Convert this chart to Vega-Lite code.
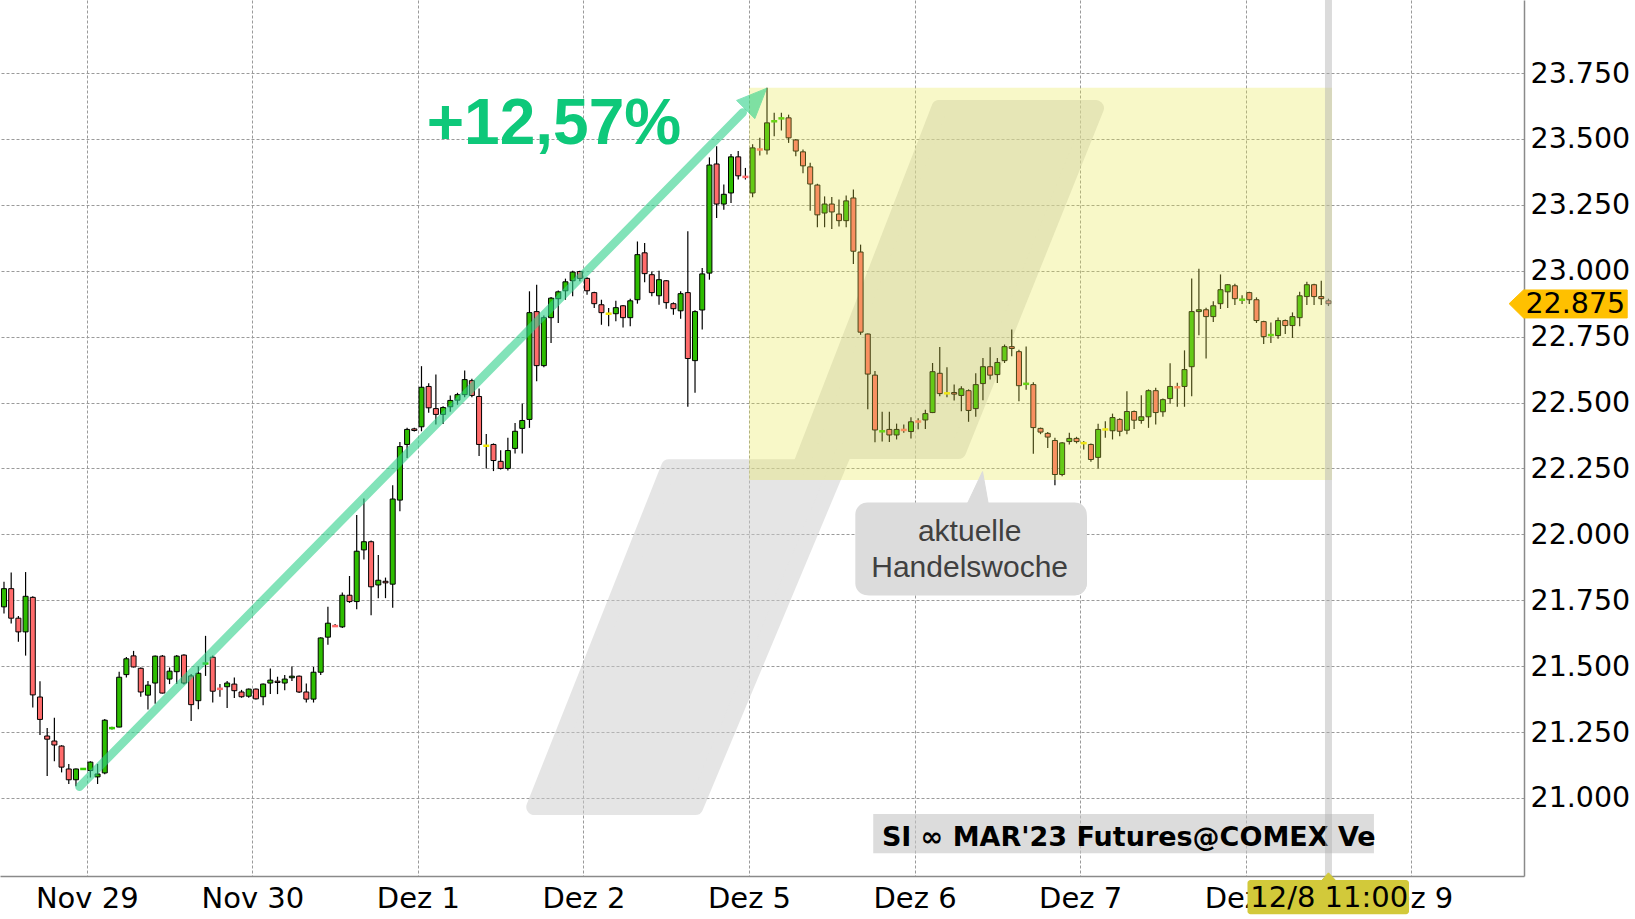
{
  "$schema": "https://vega.github.io/schema/vega-lite/v6.json",
  "width": 1524,
  "height": 876,
  "autosize": "none",
  "padding": {"left": 0, "top": 0, "right": 111, "bottom": 43},
  "background": "white",
  "config": {"view": {"stroke": null}},
  "datasets": {
    "candles": [
      {"i":-12,"o":21.725,"h":21.82,"l":21.70,"c":21.794},
      {"i":-11,"o":21.794,"h":21.855,"l":21.662,"c":21.682},
      {"i":-10,"o":21.682,"h":21.69,"l":21.593,"c":21.630},
      {"i":-9,"o":21.630,"h":21.857,"l":21.540,"c":21.765},
      {"i":-8,"o":21.761,"h":21.765,"l":21.343,"c":21.391},
      {"i":-7,"o":21.383,"h":21.443,"l":21.239,"c":21.298},
      {"i":-6,"o":21.235,"h":21.265,"l":21.083,"c":21.223},
      {"i":-5,"o":21.216,"h":21.304,"l":21.139,"c":21.201},
      {"i":-4,"o":21.197,"h":21.20,"l":21.097,"c":21.117},
      {"i":-3,"o":21.110,"h":21.129,"l":21.053,"c":21.069},
      {"i":-2,"o":21.069,"h":21.112,"l":21.044,"c":21.110},
      {"i":-1,"o":21.108,"h":21.112,"l":21.106,"c":21.110},
      {"i":0,"o":21.104,"h":21.139,"l":21.078,"c":21.136},
      {"i":1,"o":21.080,"h":21.129,"l":21.053,"c":21.091},
      {"i":2,"o":21.095,"h":21.30,"l":21.09,"c":21.295},
      {"i":3,"o":21.263,"h":21.27,"l":21.26,"c":21.265},
      {"i":4,"o":21.269,"h":21.479,"l":21.268,"c":21.458},
      {"i":5,"o":21.468,"h":21.535,"l":21.457,"c":21.528},
      {"i":6,"o":21.539,"h":21.558,"l":21.495,"c":21.497},
      {"i":7,"o":21.492,"h":21.495,"l":21.384,"c":21.402},
      {"i":8,"o":21.390,"h":21.444,"l":21.336,"c":21.428},
      {"i":9,"o":21.436,"h":21.54,"l":21.357,"c":21.538},
      {"i":10,"o":21.538,"h":21.542,"l":21.396,"c":21.398},
      {"i":11,"o":21.451,"h":21.495,"l":21.432,"c":21.481},
      {"i":12,"o":21.479,"h":21.542,"l":21.432,"c":21.538},
      {"i":13,"o":21.542,"h":21.545,"l":21.43,"c":21.436},
      {"i":14,"o":21.463,"h":21.47,"l":21.292,"c":21.354},
      {"i":15,"o":21.369,"h":21.499,"l":21.337,"c":21.473},
      {"i":16,"o":21.508,"h":21.615,"l":21.463,"c":21.510},
      {"i":17,"o":21.534,"h":21.54,"l":21.362,"c":21.405},
      {"i":18,"o":21.416,"h":21.432,"l":21.384,"c":21.414},
      {"i":19,"o":21.422,"h":21.444,"l":21.341,"c":21.436},
      {"i":20,"o":21.432,"h":21.457,"l":21.379,"c":21.407},
      {"i":21,"o":21.402,"h":21.41,"l":21.38,"c":21.384},
      {"i":22,"o":21.386,"h":21.415,"l":21.38,"c":21.413},
      {"i":23,"o":21.413,"h":21.415,"l":21.374,"c":21.376},
      {"i":24,"o":21.384,"h":21.434,"l":21.352,"c":21.432},
      {"i":25,"o":21.436,"h":21.491,"l":21.394,"c":21.447},
      {"i":26,"o":21.443,"h":21.460,"l":21.394,"c":21.438},
      {"i":27,"o":21.436,"h":21.466,"l":21.409,"c":21.451},
      {"i":28,"o":21.456,"h":21.499,"l":21.444,"c":21.462},
      {"i":29,"o":21.462,"h":21.465,"l":21.398,"c":21.402},
      {"i":30,"o":21.402,"h":21.434,"l":21.362,"c":21.375},
      {"i":31,"o":21.375,"h":21.497,"l":21.362,"c":21.477},
      {"i":32,"o":21.477,"h":21.61,"l":21.466,"c":21.607},
      {"i":33,"o":21.610,"h":21.725,"l":21.581,"c":21.663},
      {"i":34,"o":21.655,"h":21.66,"l":21.65,"c":21.652},
      {"i":35,"o":21.649,"h":21.779,"l":21.645,"c":21.769},
      {"i":36,"o":21.769,"h":21.842,"l":21.74,"c":21.745},
      {"i":37,"o":21.745,"h":22.073,"l":21.716,"c":21.936},
      {"i":38,"o":21.941,"h":22.136,"l":21.905,"c":21.972},
      {"i":39,"o":21.972,"h":21.977,"l":21.693,"c":21.801},
      {"i":40,"o":21.808,"h":21.922,"l":21.758,"c":21.826},
      {"i":41,"o":21.822,"h":21.836,"l":21.758,"c":21.816},
      {"i":42,"o":21.811,"h":22.186,"l":21.722,"c":22.134},
      {"i":43,"o":22.130,"h":22.350,"l":22.088,"c":22.333},
      {"i":44,"o":22.341,"h":22.404,"l":22.290,"c":22.398},
      {"i":45,"o":22.400,"h":22.404,"l":22.39,"c":22.394},
      {"i":46,"o":22.408,"h":22.638,"l":22.391,"c":22.558},
      {"i":47,"o":22.561,"h":22.573,"l":22.461,"c":22.480},
      {"i":48,"o":22.477,"h":22.606,"l":22.417,"c":22.455},
      {"i":49,"o":22.455,"h":22.486,"l":22.419,"c":22.481},
      {"i":50,"o":22.484,"h":22.527,"l":22.465,"c":22.508},
      {"i":51,"o":22.509,"h":22.537,"l":22.492,"c":22.530},
      {"i":52,"o":22.530,"h":22.622,"l":22.52,"c":22.587},
      {"i":53,"o":22.583,"h":22.59,"l":22.52,"c":22.527},
      {"i":54,"o":22.523,"h":22.553,"l":22.297,"c":22.341},
      {"i":55,"o":22.336,"h":22.381,"l":22.250,"c":22.336},
      {"i":56,"o":22.341,"h":22.345,"l":22.240,"c":22.280},
      {"i":57,"o":22.277,"h":22.319,"l":22.246,"c":22.250},
      {"i":58,"o":22.250,"h":22.366,"l":22.242,"c":22.318},
      {"i":59,"o":22.326,"h":22.422,"l":22.307,"c":22.391},
      {"i":60,"o":22.402,"h":22.495,"l":22.307,"c":22.432},
      {"i":61,"o":22.436,"h":22.922,"l":22.404,"c":22.841},
      {"i":62,"o":22.845,"h":22.947,"l":22.581,"c":22.640},
      {"i":63,"o":22.640,"h":22.83,"l":22.634,"c":22.822},
      {"i":64,"o":22.822,"h":22.90,"l":22.726,"c":22.896},
      {"i":65,"o":22.894,"h":22.925,"l":22.802,"c":22.920},
      {"i":66,"o":22.924,"h":22.97,"l":22.89,"c":22.958},
      {"i":67,"o":22.962,"h":23.0,"l":22.903,"c":22.995},
      {"i":68,"o":22.997,"h":23.0,"l":22.96,"c":22.971},
      {"i":69,"o":22.971,"h":22.975,"l":22.909,"c":22.924},
      {"i":70,"o":22.917,"h":22.92,"l":22.859,"c":22.875},
      {"i":71,"o":22.871,"h":22.890,"l":22.795,"c":22.841},
      {"i":72,"o":22.837,"h":22.859,"l":22.789,"c":22.837},
      {"i":73,"o":22.837,"h":22.886,"l":22.808,"c":22.860},
      {"i":74,"o":22.867,"h":22.87,"l":22.785,"c":22.822},
      {"i":75,"o":22.822,"h":22.894,"l":22.789,"c":22.886},
      {"i":76,"o":22.890,"h":23.111,"l":22.875,"c":23.061},
      {"i":77,"o":23.068,"h":23.105,"l":22.956,"c":22.989},
      {"i":78,"o":22.985,"h":22.997,"l":22.903,"c":22.917},
      {"i":79,"o":22.905,"h":23.0,"l":22.871,"c":22.966},
      {"i":80,"o":22.962,"h":22.965,"l":22.856,"c":22.879},
      {"i":81,"o":22.875,"h":22.88,"l":22.833,"c":22.856},
      {"i":82,"o":22.848,"h":22.922,"l":22.818,"c":22.913},
      {"i":83,"o":22.917,"h":23.15,"l":22.484,"c":22.667},
      {"i":84,"o":22.659,"h":22.85,"l":22.537,"c":22.845},
      {"i":85,"o":22.851,"h":23.01,"l":22.777,"c":22.988},
      {"i":86,"o":22.991,"h":23.430,"l":22.966,"c":23.401},
      {"i":87,"o":23.405,"h":23.472,"l":23.200,"c":23.253},
      {"i":88,"o":23.253,"h":23.327,"l":23.231,"c":23.290},
      {"i":89,"o":23.295,"h":23.443,"l":23.257,"c":23.432},
      {"i":90,"o":23.432,"h":23.454,"l":23.346,"c":23.360},
      {"i":91,"o":23.359,"h":23.39,"l":23.346,"c":23.356},
      {"i":92,"o":23.295,"h":23.48,"l":23.279,"c":23.466},
      {"i":93,"o":23.463,"h":23.504,"l":23.437,"c":23.460},
      {"i":94,"o":23.458,"h":23.694,"l":23.441,"c":23.561},
      {"i":95,"o":23.565,"h":23.599,"l":23.510,"c":23.567},
      {"i":96,"o":23.576,"h":23.599,"l":23.532,"c":23.578},
      {"i":97,"o":23.580,"h":23.592,"l":23.485,"c":23.504},
      {"i":98,"o":23.496,"h":23.50,"l":23.434,"c":23.454},
      {"i":99,"o":23.451,"h":23.46,"l":23.370,"c":23.398},
      {"i":100,"o":23.394,"h":23.41,"l":23.228,"c":23.329},
      {"i":101,"o":23.325,"h":23.33,"l":23.165,"c":23.212},
      {"i":102,"o":23.219,"h":23.282,"l":23.165,"c":23.253},
      {"i":103,"o":23.253,"h":23.28,"l":23.158,"c":23.223},
      {"i":104,"o":23.215,"h":23.27,"l":23.168,"c":23.190},
      {"i":105,"o":23.190,"h":23.285,"l":23.165,"c":23.265},
      {"i":106,"o":23.276,"h":23.308,"l":23.026,"c":23.074},
      {"i":107,"o":23.071,"h":23.099,"l":22.757,"c":22.767},
      {"i":108,"o":22.760,"h":22.762,"l":22.475,"c":22.608},
      {"i":109,"o":22.604,"h":22.62,"l":22.349,"c":22.396},
      {"i":110,"o":22.389,"h":22.465,"l":22.352,"c":22.391},
      {"i":111,"o":22.398,"h":22.465,"l":22.35,"c":22.377},
      {"i":112,"o":22.377,"h":22.42,"l":22.36,"c":22.398},
      {"i":113,"o":22.398,"h":22.417,"l":22.385,"c":22.396},
      {"i":114,"o":22.390,"h":22.444,"l":22.364,"c":22.427},
      {"i":115,"o":22.431,"h":22.44,"l":22.399,"c":22.428},
      {"i":116,"o":22.434,"h":22.473,"l":22.40,"c":22.458},
      {"i":117,"o":22.462,"h":22.650,"l":22.46,"c":22.617},
      {"i":118,"o":22.611,"h":22.711,"l":22.524,"c":22.534},
      {"i":119,"o":22.535,"h":22.634,"l":22.520,"c":22.535},
      {"i":120,"o":22.538,"h":22.568,"l":22.508,"c":22.532},
      {"i":121,"o":22.527,"h":22.562,"l":22.467,"c":22.552},
      {"i":122,"o":22.545,"h":22.55,"l":22.427,"c":22.470},
      {"i":123,"o":22.477,"h":22.611,"l":22.446,"c":22.568},
      {"i":124,"o":22.572,"h":22.669,"l":22.509,"c":22.636},
      {"i":125,"o":22.636,"h":22.710,"l":22.587,"c":22.604},
      {"i":126,"o":22.606,"h":22.669,"l":22.574,"c":22.652},
      {"i":127,"o":22.659,"h":22.72,"l":22.65,"c":22.712},
      {"i":128,"o":22.712,"h":22.777,"l":22.676,"c":22.705},
      {"i":129,"o":22.693,"h":22.70,"l":22.505,"c":22.564},
      {"i":130,"o":22.570,"h":22.713,"l":22.549,"c":22.571},
      {"i":131,"o":22.568,"h":22.577,"l":22.306,"c":22.405},
      {"i":132,"o":22.402,"h":22.405,"l":22.38,"c":22.388},
      {"i":133,"o":22.383,"h":22.388,"l":22.328,"c":22.369},
      {"i":134,"o":22.356,"h":22.366,"l":22.186,"c":22.227},
      {"i":135,"o":22.227,"h":22.35,"l":22.22,"c":22.347},
      {"i":136,"o":22.352,"h":22.385,"l":22.341,"c":22.364},
      {"i":137,"o":22.364,"h":22.37,"l":22.345,"c":22.352},
      {"i":138,"o":22.346,"h":22.354,"l":22.322,"c":22.346},
      {"i":139,"o":22.341,"h":22.345,"l":22.275,"c":22.284},
      {"i":140,"o":22.292,"h":22.420,"l":22.250,"c":22.398},
      {"i":141,"o":22.398,"h":22.429,"l":22.366,"c":22.398},
      {"i":142,"o":22.393,"h":22.458,"l":22.36,"c":22.443},
      {"i":143,"o":22.436,"h":22.44,"l":22.372,"c":22.391},
      {"i":144,"o":22.395,"h":22.543,"l":22.38,"c":22.466},
      {"i":145,"o":22.466,"h":22.47,"l":22.40,"c":22.433},
      {"i":146,"o":22.432,"h":22.528,"l":22.42,"c":22.446},
      {"i":147,"o":22.446,"h":22.55,"l":22.404,"c":22.545},
      {"i":148,"o":22.545,"h":22.556,"l":22.417,"c":22.462},
      {"i":149,"o":22.465,"h":22.515,"l":22.446,"c":22.511},
      {"i":150,"o":22.515,"h":22.649,"l":22.495,"c":22.561},
      {"i":151,"o":22.561,"h":22.575,"l":22.484,"c":22.558},
      {"i":152,"o":22.561,"h":22.698,"l":22.484,"c":22.625},
      {"i":153,"o":22.636,"h":22.971,"l":22.524,"c":22.845},
      {"i":154,"o":22.845,"h":23.008,"l":22.755,"c":22.852},
      {"i":155,"o":22.852,"h":22.86,"l":22.667,"c":22.826},
      {"i":156,"o":22.826,"h":22.884,"l":22.806,"c":22.867},
      {"i":157,"o":22.875,"h":22.986,"l":22.855,"c":22.928},
      {"i":158,"o":22.920,"h":22.95,"l":22.859,"c":22.947},
      {"i":159,"o":22.943,"h":22.951,"l":22.870,"c":22.894},
      {"i":160,"o":22.888,"h":22.907,"l":22.874,"c":22.890},
      {"i":161,"o":22.917,"h":22.92,"l":22.874,"c":22.890},
      {"i":162,"o":22.890,"h":22.899,"l":22.802,"c":22.811},
      {"i":163,"o":22.807,"h":22.81,"l":22.722,"c":22.750},
      {"i":164,"o":22.754,"h":22.804,"l":22.726,"c":22.756},
      {"i":165,"o":22.754,"h":22.823,"l":22.742,"c":22.811},
      {"i":166,"o":22.811,"h":22.815,"l":22.760,"c":22.792},
      {"i":167,"o":22.792,"h":22.842,"l":22.745,"c":22.826},
      {"i":168,"o":22.822,"h":22.920,"l":22.789,"c":22.905},
      {"i":169,"o":22.902,"h":22.958,"l":22.870,"c":22.947},
      {"i":170,"o":22.947,"h":22.951,"l":22.870,"c":22.902},
      {"i":171,"o":22.902,"h":22.962,"l":22.870,"c":22.894},
      {"i":172,"o":22.886,"h":22.894,"l":22.866,"c":22.875}
    ],
    "logo": [
      {"k":1,"i":61.67,"v":20.9655},
      {"k":2,"i":84.03,"v":20.9655},
      {"k":3,"i":104.73,"v":22.316},
      {"k":4,"i":120.57,"v":22.316},
      {"k":5,"i":139.7,"v":23.617},
      {"k":6,"i":117.94,"v":23.617},
      {"k":7,"i":98.62,"v":22.255},
      {"k":8,"i":80.39,"v":22.255}
    ],
    "week": [{"i":91.5,"i2":172.5,"v":22.206,"v2":23.694}],
    "arrow": [{"i":-1.51,"v":21.0425,"i2":90.63,"v2":23.600}],
    "arrowhead": [
      {"k":1,"i":93.95,"v":23.692},
      {"k":2,"i":92.31,"v":23.577},
      {"k":3,"i":89.77,"v":23.646}
    ],
    "gain": [{"t":"+12,57%","i":64.4,"v":23.481}],
    "callout": [{"i":106.27,"i2":138.43,"v":22.121,"v2":21.769}],
    "calloutPointer": [
      {"k":1,"i":121.73,"v":22.11},
      {"k":2,"i":123.94,"v":22.238},
      {"k":3,"i":124.77,"v":22.11}
    ],
    "calloutText": [
      {"t":"aktuelle","i":122.15,"v":21.976},
      {"t":"Handelswoche","i":122.15,"v":21.839}
    ],
    "band": [{"i":108.76,"i2":178.32,"v":20.939,"v2":20.790}],
    "bandText": [{"t":"SI ∞ MAR'23 Futures@COMEX Ve","i":109.96,"v":20.819}],
    "cursor": [{"i":172}],
    "priceTag": [
      {"k":1,"i":197.1,"v":22.875},
      {"k":2,"i":199.1,"v":22.927},
      {"k":3,"i":213.5,"v":22.927},
      {"k":4,"i":213.5,"v":22.821},
      {"k":5,"i":199.1,"v":22.821}
    ],
    "priceText": [{"t":"22.875","i":199.37,"v":22.875}],
    "timeBox": [{"i":160.75,"i2":183.19,"v":20.6885,"v2":20.559}],
    "timePointer": [
      {"k":1,"i":171.0,"v":20.685},
      {"k":2,"i":172.0,"v":20.716},
      {"k":3,"i":173.07,"v":20.685}
    ],
    "timeText": [{"t":"12/8 11:00","i":172.1,"v":20.585}]
  },
  "layer": [
    {
      "data": {"name": "logo"},
      "mark": {"type": "line", "interpolate": "linear-closed", "fill": "#cccccc", "stroke": "#cccccc", "strokeWidth": 16, "strokeJoin": "round", "opacity": 0.5},
      "encoding": {
        "x": {"field": "i", "type": "quantitative", "title": null, "scale": {"domain": [-11.86, 198.47], "nice": false, "zero": false},
          "axis": {"orient": "bottom", "values": [-0.5, 22.5, 45.5, 68.5, 91.5, 114.5, 137.5, 160.5, 183.5],
            "labelExpr": "['Nov 29','Nov 30','Dez 1','Dez 2','Dez 5','Dez 6','Dez 7','Dez 8','Dez 9'][round((datum.value+0.5)/23)]",
            "grid": true, "gridDash": [3, 2], "gridColor": "#9a9a9a", "gridWidth": 1, "ticks": false,
            "domainColor": "#8a8a8a", "domainWidth": 1.5, "labelFont": "DejaVu Sans", "labelFontSize": 29, "labelColor": "#000000",
            "labelPadding": 8, "title": null, "labelFlush": false, "labelOverlap": false}},
        "y": {"field": "v", "type": "quantitative", "title": null, "scale": {"domain": [20.704, 24.027], "nice": false, "zero": false},
          "axis": {"orient": "right", "values": [21, 21.25, 21.5, 21.75, 22, 22.25, 22.5, 22.75, 23, 23.25, 23.5, 23.75],
            "format": ".3f", "grid": true, "gridDash": [3, 2], "gridColor": "#9a9a9a", "gridWidth": 1, "ticks": false,
            "domainColor": "#8a8a8a", "domainWidth": 1.5, "labelFont": "DejaVu Sans", "labelFontSize": 28.5, "labelColor": "#000000",
            "labelPadding": 6, "labelAlign": "left", "labelBaseline": "middle", "title": null, "labelFlush": false, "labelOverlap": false}},
        "order": {"field": "k", "type": "quantitative"}
      }
    },
    {
      "data": {"name": "candles"},
      "mark": {"type": "rule", "color": "#000000", "strokeWidth": 1.2},
      "encoding": {
        "x": {"field": "i", "type": "quantitative", "title": null, "scale": {"domain": [-11.86, 198.47], "nice": false, "zero": false}},
        "y": {"field": "l", "type": "quantitative", "title": null, "scale": {"domain": [20.704, 24.027], "nice": false, "zero": false}},
        "y2": {"field": "h"}
      }
    },
    {
      "data": {"name": "candles"},
      "transform": [{"filter": "abs(datum.c - datum.o) >= 0.004"}],
      "mark": {"type": "bar", "width": 5, "stroke": "#000000", "strokeWidth": 1},
      "encoding": {
        "x": {"field": "i", "type": "quantitative", "title": null, "scale": {"domain": [-11.86, 198.47], "nice": false, "zero": false}},
        "y": {"field": "o", "type": "quantitative", "title": null, "scale": {"domain": [20.704, 24.027], "nice": false, "zero": false}},
        "y2": {"field": "c"},
        "fill": {"condition": {"test": "datum.c > datum.o", "value": "#2dbd00"}, "value": "#ff6b6b"}
      }
    },
    {
      "data": {"name": "candles"},
      "transform": [{"filter": "abs(datum.c - datum.o) < 0.004"}],
      "mark": {"type": "tick", "orient": "horizontal", "size": 6, "thickness": 2.5, "opacity": 1},
      "encoding": {
        "x": {"field": "i", "type": "quantitative", "title": null, "scale": {"domain": [-11.86, 198.47], "nice": false, "zero": false}},
        "y": {"field": "c", "type": "quantitative", "title": null, "scale": {"domain": [20.704, 24.027], "nice": false, "zero": false}},
        "color": {"condition": [{"test": "datum.c > datum.o", "value": "#33cc00"}, {"test": "datum.c < datum.o", "value": "#ff6b6b"}], "value": "#f2e600"}
      }
    },
    {
      "data": {"name": "week"},
      "mark": {"type": "rect", "fill": "#e8e848", "opacity": 0.3},
      "encoding": {
        "x": {"field": "i", "type": "quantitative", "title": null, "scale": {"domain": [-11.86, 198.47], "nice": false, "zero": false}},
        "x2": {"field": "i2"},
        "y": {"field": "v", "type": "quantitative", "title": null, "scale": {"domain": [20.704, 24.027], "nice": false, "zero": false}},
        "y2": {"field": "v2"}
      }
    },
    {
      "data": {"name": "arrow"},
      "mark": {"type": "rule", "color": "#2ed18a", "strokeWidth": 8.5, "strokeCap": "round", "opacity": 0.6},
      "encoding": {
        "x": {"field": "i", "type": "quantitative", "title": null, "scale": {"domain": [-11.86, 198.47], "nice": false, "zero": false}},
        "x2": {"field": "i2"},
        "y": {"field": "v", "type": "quantitative", "title": null, "scale": {"domain": [20.704, 24.027], "nice": false, "zero": false}},
        "y2": {"field": "v2"}
      }
    },
    {
      "data": {"name": "arrowhead"},
      "mark": {"type": "line", "interpolate": "linear-closed", "fill": "#2ed18a", "stroke": "#2ed18a", "strokeWidth": 1, "opacity": 0.6},
      "encoding": {
        "x": {"field": "i", "type": "quantitative", "title": null, "scale": {"domain": [-11.86, 198.47], "nice": false, "zero": false}},
        "y": {"field": "v", "type": "quantitative", "title": null, "scale": {"domain": [20.704, 24.027], "nice": false, "zero": false}},
        "order": {"field": "k", "type": "quantitative"}
      }
    },
    {
      "data": {"name": "gain"},
      "mark": {"type": "text", "font": "Liberation Sans", "fontWeight": "bold", "fontSize": 64, "color": "#0ec87a", "align": "center", "baseline": "alphabetic"},
      "encoding": {
        "x": {"field": "i", "type": "quantitative", "title": null, "scale": {"domain": [-11.86, 198.47], "nice": false, "zero": false}},
        "y": {"field": "v", "type": "quantitative", "title": null, "scale": {"domain": [20.704, 24.027], "nice": false, "zero": false}},
        "text": {"field": "t"}
      }
    },
    {
      "data": {"name": "callout"},
      "mark": {"type": "rect", "fill": "#9a9a9a", "opacity": 0.45, "cornerRadius": 12, "xOffset": 2, "yOffset": 4},
      "encoding": {
        "x": {"field": "i", "type": "quantitative", "title": null, "scale": {"domain": [-11.86, 198.47], "nice": false, "zero": false}},
        "x2": {"field": "i2"},
        "y": {"field": "v", "type": "quantitative", "title": null, "scale": {"domain": [20.704, 24.027], "nice": false, "zero": false}},
        "y2": {"field": "v2"}
      }
    },
    {
      "data": {"name": "callout"},
      "mark": {"type": "rect", "fill": "#dcdcdc", "cornerRadius": 12},
      "encoding": {
        "x": {"field": "i", "type": "quantitative", "title": null, "scale": {"domain": [-11.86, 198.47], "nice": false, "zero": false}},
        "x2": {"field": "i2"},
        "y": {"field": "v", "type": "quantitative", "title": null, "scale": {"domain": [20.704, 24.027], "nice": false, "zero": false}},
        "y2": {"field": "v2"}
      }
    },
    {
      "data": {"name": "calloutPointer"},
      "mark": {"type": "line", "interpolate": "linear-closed", "fill": "#dcdcdc", "stroke": "#dcdcdc", "strokeWidth": 1},
      "encoding": {
        "x": {"field": "i", "type": "quantitative", "title": null, "scale": {"domain": [-11.86, 198.47], "nice": false, "zero": false}},
        "y": {"field": "v", "type": "quantitative", "title": null, "scale": {"domain": [20.704, 24.027], "nice": false, "zero": false}},
        "order": {"field": "k", "type": "quantitative"}
      }
    },
    {
      "data": {"name": "calloutText"},
      "mark": {"type": "text", "font": "Liberation Sans", "fontSize": 30, "color": "#404040", "align": "center", "baseline": "alphabetic"},
      "encoding": {
        "x": {"field": "i", "type": "quantitative", "title": null, "scale": {"domain": [-11.86, 198.47], "nice": false, "zero": false}},
        "y": {"field": "v", "type": "quantitative", "title": null, "scale": {"domain": [20.704, 24.027], "nice": false, "zero": false}},
        "text": {"field": "t"}
      }
    },
    {
      "data": {"name": "band"},
      "mark": {"type": "rect", "fill": "#c4c4c4", "opacity": 0.6},
      "encoding": {
        "x": {"field": "i", "type": "quantitative", "title": null, "scale": {"domain": [-11.86, 198.47], "nice": false, "zero": false}},
        "x2": {"field": "i2"},
        "y": {"field": "v", "type": "quantitative", "title": null, "scale": {"domain": [20.704, 24.027], "nice": false, "zero": false}},
        "y2": {"field": "v2"}
      }
    },
    {
      "data": {"name": "bandText"},
      "mark": {"type": "text", "font": "DejaVu Sans", "fontWeight": "bold", "fontSize": 27, "color": "#000000", "align": "left", "baseline": "alphabetic"},
      "encoding": {
        "x": {"field": "i", "type": "quantitative", "title": null, "scale": {"domain": [-11.86, 198.47], "nice": false, "zero": false}},
        "y": {"field": "v", "type": "quantitative", "title": null, "scale": {"domain": [20.704, 24.027], "nice": false, "zero": false}},
        "text": {"field": "t"}
      }
    },
    {
      "data": {"name": "cursor"},
      "mark": {"type": "rule", "color": "#b0b0b0", "strokeWidth": 7, "opacity": 0.45},
      "encoding": {
        "x": {"field": "i", "type": "quantitative", "title": null, "scale": {"domain": [-11.86, 198.47], "nice": false, "zero": false}}
      }
    },
    {
      "data": {"name": "priceTag"},
      "mark": {"type": "line", "interpolate": "linear-closed", "fill": "#ffc000", "stroke": "#ffc000", "strokeWidth": 1},
      "encoding": {
        "x": {"field": "i", "type": "quantitative", "title": null, "scale": {"domain": [-11.86, 198.47], "nice": false, "zero": false}},
        "y": {"field": "v", "type": "quantitative", "title": null, "scale": {"domain": [20.704, 24.027], "nice": false, "zero": false}},
        "order": {"field": "k", "type": "quantitative"}
      }
    },
    {
      "data": {"name": "priceText"},
      "mark": {"type": "text", "font": "DejaVu Sans", "fontSize": 28.5, "color": "#000000", "align": "left", "baseline": "middle"},
      "encoding": {
        "x": {"field": "i", "type": "quantitative", "title": null, "scale": {"domain": [-11.86, 198.47], "nice": false, "zero": false}},
        "y": {"field": "v", "type": "quantitative", "title": null, "scale": {"domain": [20.704, 24.027], "nice": false, "zero": false}},
        "text": {"field": "t"}
      }
    },
    {
      "data": {"name": "timePointer"},
      "mark": {"type": "line", "interpolate": "linear-closed", "fill": "#d2c93a", "stroke": "#d2c93a", "strokeWidth": 1},
      "encoding": {
        "x": {"field": "i", "type": "quantitative", "title": null, "scale": {"domain": [-11.86, 198.47], "nice": false, "zero": false}},
        "y": {"field": "v", "type": "quantitative", "title": null, "scale": {"domain": [20.704, 24.027], "nice": false, "zero": false}},
        "order": {"field": "k", "type": "quantitative"}
      }
    },
    {
      "data": {"name": "timeBox"},
      "mark": {"type": "rect", "fill": "#d2c93a", "cornerRadius": 3},
      "encoding": {
        "x": {"field": "i", "type": "quantitative", "title": null, "scale": {"domain": [-11.86, 198.47], "nice": false, "zero": false}},
        "x2": {"field": "i2"},
        "y": {"field": "v", "type": "quantitative", "title": null, "scale": {"domain": [20.704, 24.027], "nice": false, "zero": false}},
        "y2": {"field": "v2"}
      }
    },
    {
      "data": {"name": "timeText"},
      "mark": {"type": "text", "font": "DejaVu Sans", "fontSize": 29, "color": "#000000", "align": "center", "baseline": "alphabetic"},
      "encoding": {
        "x": {"field": "i", "type": "quantitative", "title": null, "scale": {"domain": [-11.86, 198.47], "nice": false, "zero": false}},
        "y": {"field": "v", "type": "quantitative", "title": null, "scale": {"domain": [20.704, 24.027], "nice": false, "zero": false}},
        "text": {"field": "t"}
      }
    }
  ]
}
